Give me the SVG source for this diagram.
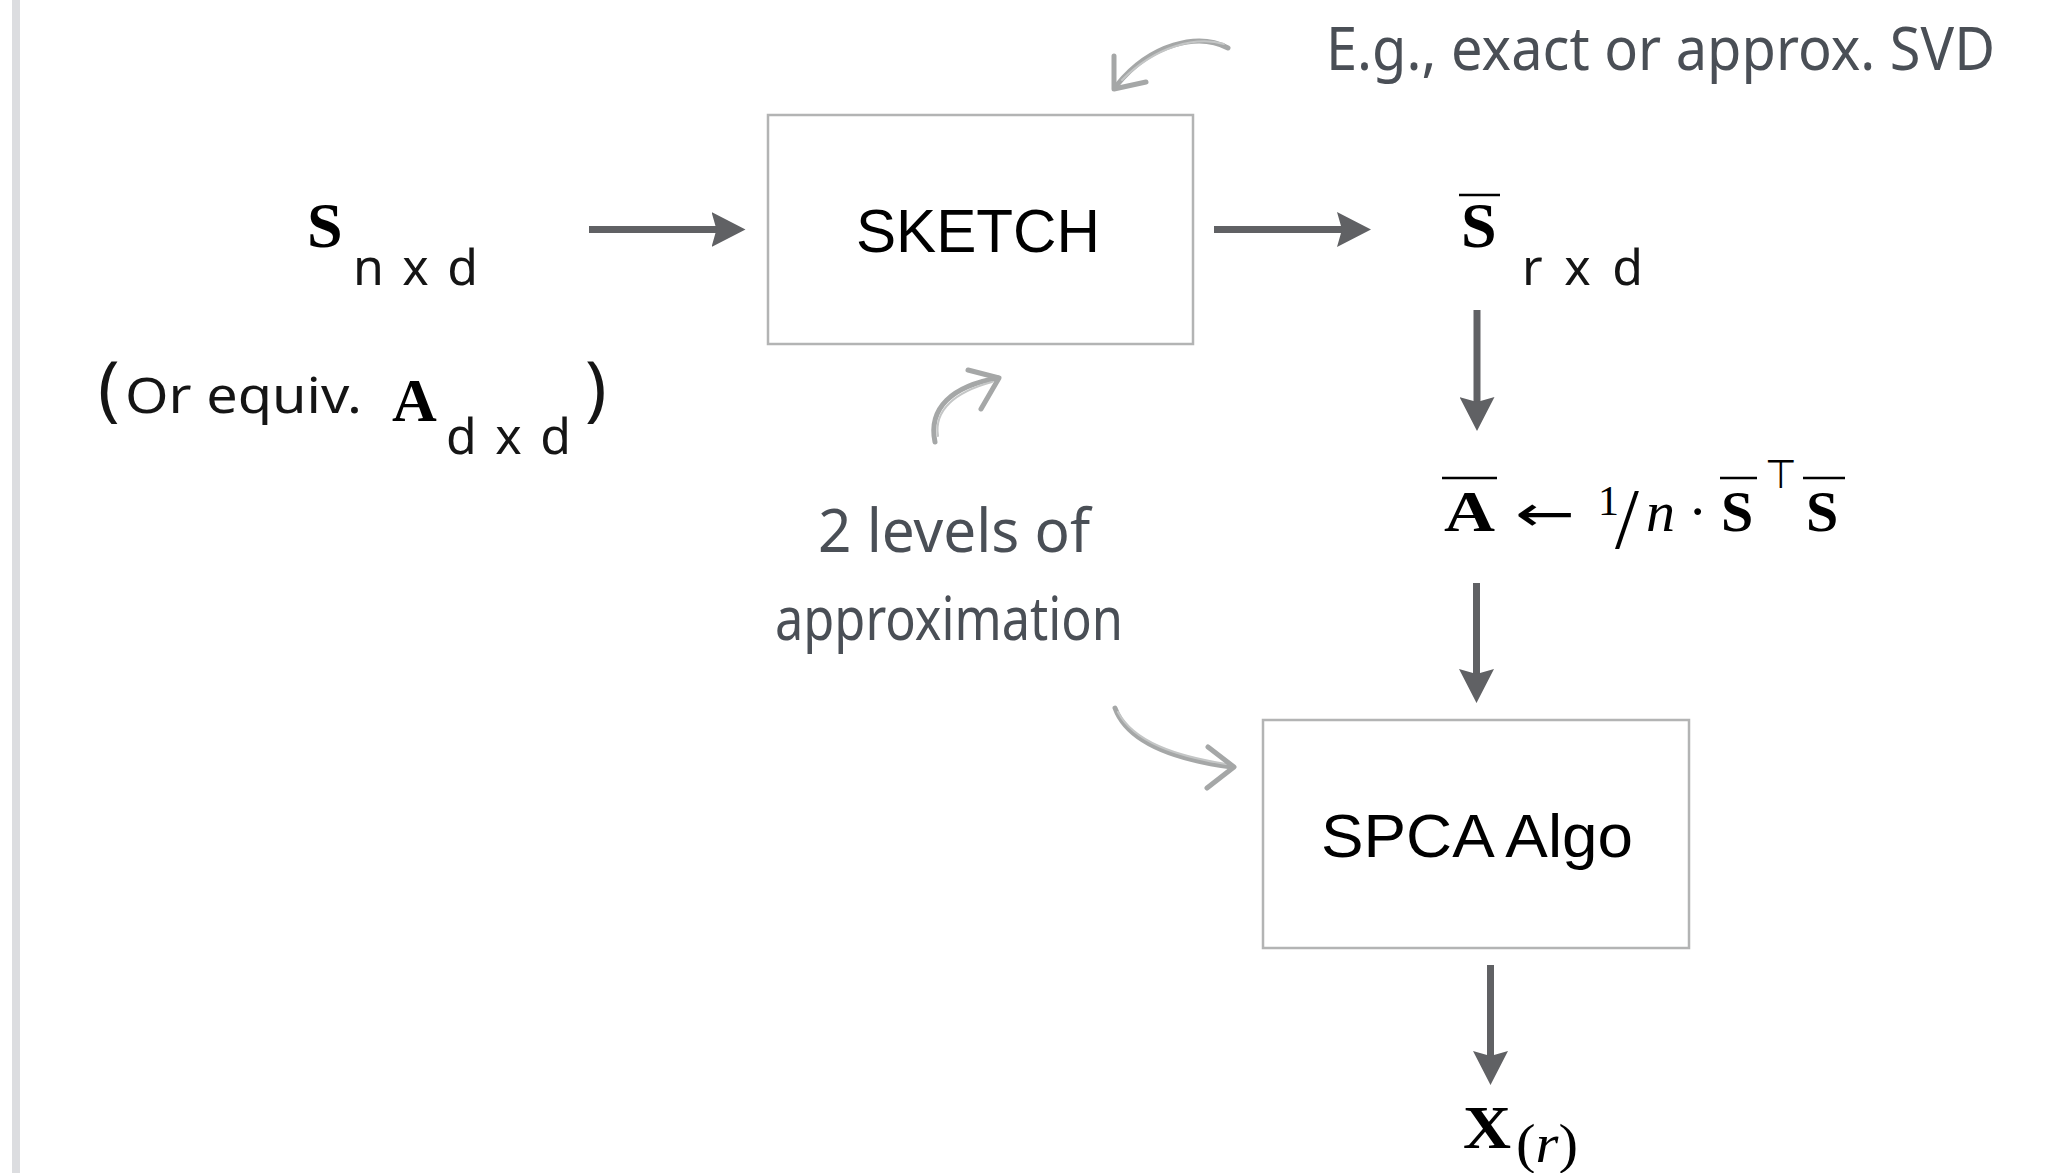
<svg xmlns="http://www.w3.org/2000/svg" width="2057" height="1173" viewBox="0 0 2057 1173">
  <defs>
    <style>
      .box { fill: #ffffff; stroke: #b3b4b4; stroke-width: 2.5; }
      .label { font-family: "Liberation Sans", Arial, sans-serif; font-size: 62px; fill: #000000; }
      .conn { stroke: #606164; stroke-width: 7; fill: none; }
      .note { stroke: #a5a7a7; stroke-width: 5; fill: none; stroke-linecap: round; stroke-linejoin: round; }
      .note2 { stroke: #c4c6c6; stroke-width: 2; fill: none; stroke-linecap: round; }
      .math { font-family: "Liberation Serif", "Times New Roman", serif; fill: #000000; }
      .mb { font-weight: bold; }
      .hand { font-family: "Noto Sans", "Open Sans", sans-serif; font-weight: 400; }
      .handdark { fill: #151515; }
      .handgray { fill: #4a4f56; }
      .bar { stroke: #000000; stroke-width: 2.5; }
    </style>
    <marker id="ah" viewBox="0 0 34 35" refX="14" refY="17.5" markerWidth="34" markerHeight="35" markerUnits="userSpaceOnUse" orient="auto">
      <path d="M0,0 L34,17.5 L0,35 L5,17.5 Z" fill="#606164"/>
    </marker>
  </defs>

  <rect x="0" y="0" width="2057" height="1173" fill="#ffffff"/>
  <rect x="12" y="0" width="8" height="1173" fill="#dcdde0"/>

  <!-- connectors -->
  <g id="connectors">
    <line class="conn" x1="589" y1="229.5" x2="725.5" y2="229.5" marker-end="url(#ah)"/>
    <line class="conn" x1="1214" y1="229.5" x2="1351" y2="229.5" marker-end="url(#ah)"/>
    <line class="conn" x1="1477" y1="310" x2="1477" y2="411" marker-end="url(#ah)"/>
    <line class="conn" x1="1476.5" y1="583" x2="1476.5" y2="683" marker-end="url(#ah)"/>
    <line class="conn" x1="1490.5" y1="965" x2="1490.5" y2="1065" marker-end="url(#ah)"/>
  </g>

  <!-- hand-drawn annotation arrows -->
  <g id="note-arrows">
    <g id="note-arrow-svd">
      <path class="note" d="M1228,48 C1198,32 1150,44 1117,85"/>
      <path class="note2" d="M1224,44 C1196,36 1156,46 1122,80"/>
      <path class="note" d="M1114,56 L1114,89 L1146,82"/>
    </g>
    <g id="note-arrow-sketch">
      <path class="note" d="M935,442 C928,408 952,386 998,378"/>
      <path class="note2" d="M938,436 C934,410 955,392 992,382"/>
      <path class="note" d="M968,370 L999,378 L981,409"/>
    </g>
    <g id="note-arrow-spca">
      <path class="note" d="M1115,708 C1128,744 1178,760 1232,767"/>
      <path class="note2" d="M1118,712 C1134,742 1176,756 1226,764"/>
      <path class="note" d="M1208,747 L1234,767 L1207,788"/>
    </g>
  </g>

  <!-- nodes -->
  <g id="node-S">
    <text class="math mb" x="307" y="247" font-size="64">S</text>
    <text class="hand handdark" x="353" y="285" font-size="50" textLength="125" lengthAdjust="spacing">n x d</text>
  </g>

  <g id="node-A-equiv">
    <text class="hand handdark" x="98" y="413" font-size="72">(</text>
    <text class="hand handdark" x="125" y="413" font-size="50" textLength="237" lengthAdjust="spacingAndGlyphs">Or equiv.</text>
    <text class="math mb" x="392" y="421" font-size="62">A</text>
    <text class="hand handdark" x="446" y="454" font-size="50" textLength="125" lengthAdjust="spacing">d x d</text>
    <text class="hand handdark" x="585" y="413" font-size="72">)</text>
  </g>

  <g id="node-sketch">
    <rect class="box" x="768" y="115" width="425" height="229"/>
    <text class="label" x="856" y="252" textLength="244" lengthAdjust="spacingAndGlyphs">SKETCH</text>
  </g>

  <g id="node-Sbar">
    <line class="bar" x1="1459" y1="195" x2="1500" y2="195"/>
    <text class="math mb" x="1461" y="247" font-size="64">S</text>
    <text class="hand handdark" x="1522" y="285" font-size="50" textLength="121" lengthAdjust="spacing">r x d</text>
  </g>

  <g id="node-Abar">
    <line class="bar" x1="1442" y1="478" x2="1497" y2="478"/>
    <text class="math mb" x="1444" y="531" font-size="58" textLength="51" lengthAdjust="spacingAndGlyphs">A</text>
    <text x="1515" y="531" font-family="DejaVu Sans, sans-serif" font-size="50" textLength="60" lengthAdjust="spacingAndGlyphs" fill="#000">←</text>
    <text class="math" x="1598" y="515" font-size="42">1</text>
    <text class="math" x="1615" y="548" font-size="86">/</text>
    <text class="math" x="1646" y="531" font-size="58" font-style="italic">n</text>
    <text class="math" x="1688" y="531" font-size="58">·</text>
    <line class="bar" x1="1720" y1="478" x2="1757" y2="478"/>
    <text class="math mb" x="1721" y="531" font-size="58">S</text>
    <text x="1765" y="488" font-family="DejaVu Sans, sans-serif" font-size="40" textLength="32" lengthAdjust="spacingAndGlyphs" fill="#000">⊤</text>
    <line class="bar" x1="1803" y1="478" x2="1845" y2="478"/>
    <text class="math mb" x="1806" y="531" font-size="58">S</text>
  </g>

  <g id="node-spca">
    <rect class="box" x="1263" y="720" width="426" height="228"/>
    <text class="label" x="1321" y="857" textLength="312" lengthAdjust="spacingAndGlyphs">SPCA Algo</text>
  </g>

  <g id="node-X">
    <text class="math mb" x="1463" y="1148" font-size="62" textLength="48" lengthAdjust="spacingAndGlyphs">X</text>
    <text class="math" x="1516" y="1162" font-size="54" textLength="62" lengthAdjust="spacingAndGlyphs">(<tspan font-style="italic">r</tspan>)</text>
  </g>

  <!-- annotations -->
  <g id="note-svd">
    <text class="hand handgray" x="1326" y="70" font-size="60" textLength="669" lengthAdjust="spacingAndGlyphs">E.g., exact or approx. SVD</text>
  </g>
  <g id="note-levels">
    <text class="hand handgray" x="818" y="552" font-size="60" textLength="272" lengthAdjust="spacingAndGlyphs">2 levels of</text>
    <text class="hand handgray" x="775" y="640" font-size="60" textLength="348" lengthAdjust="spacingAndGlyphs">approximation</text>
  </g>
</svg>
